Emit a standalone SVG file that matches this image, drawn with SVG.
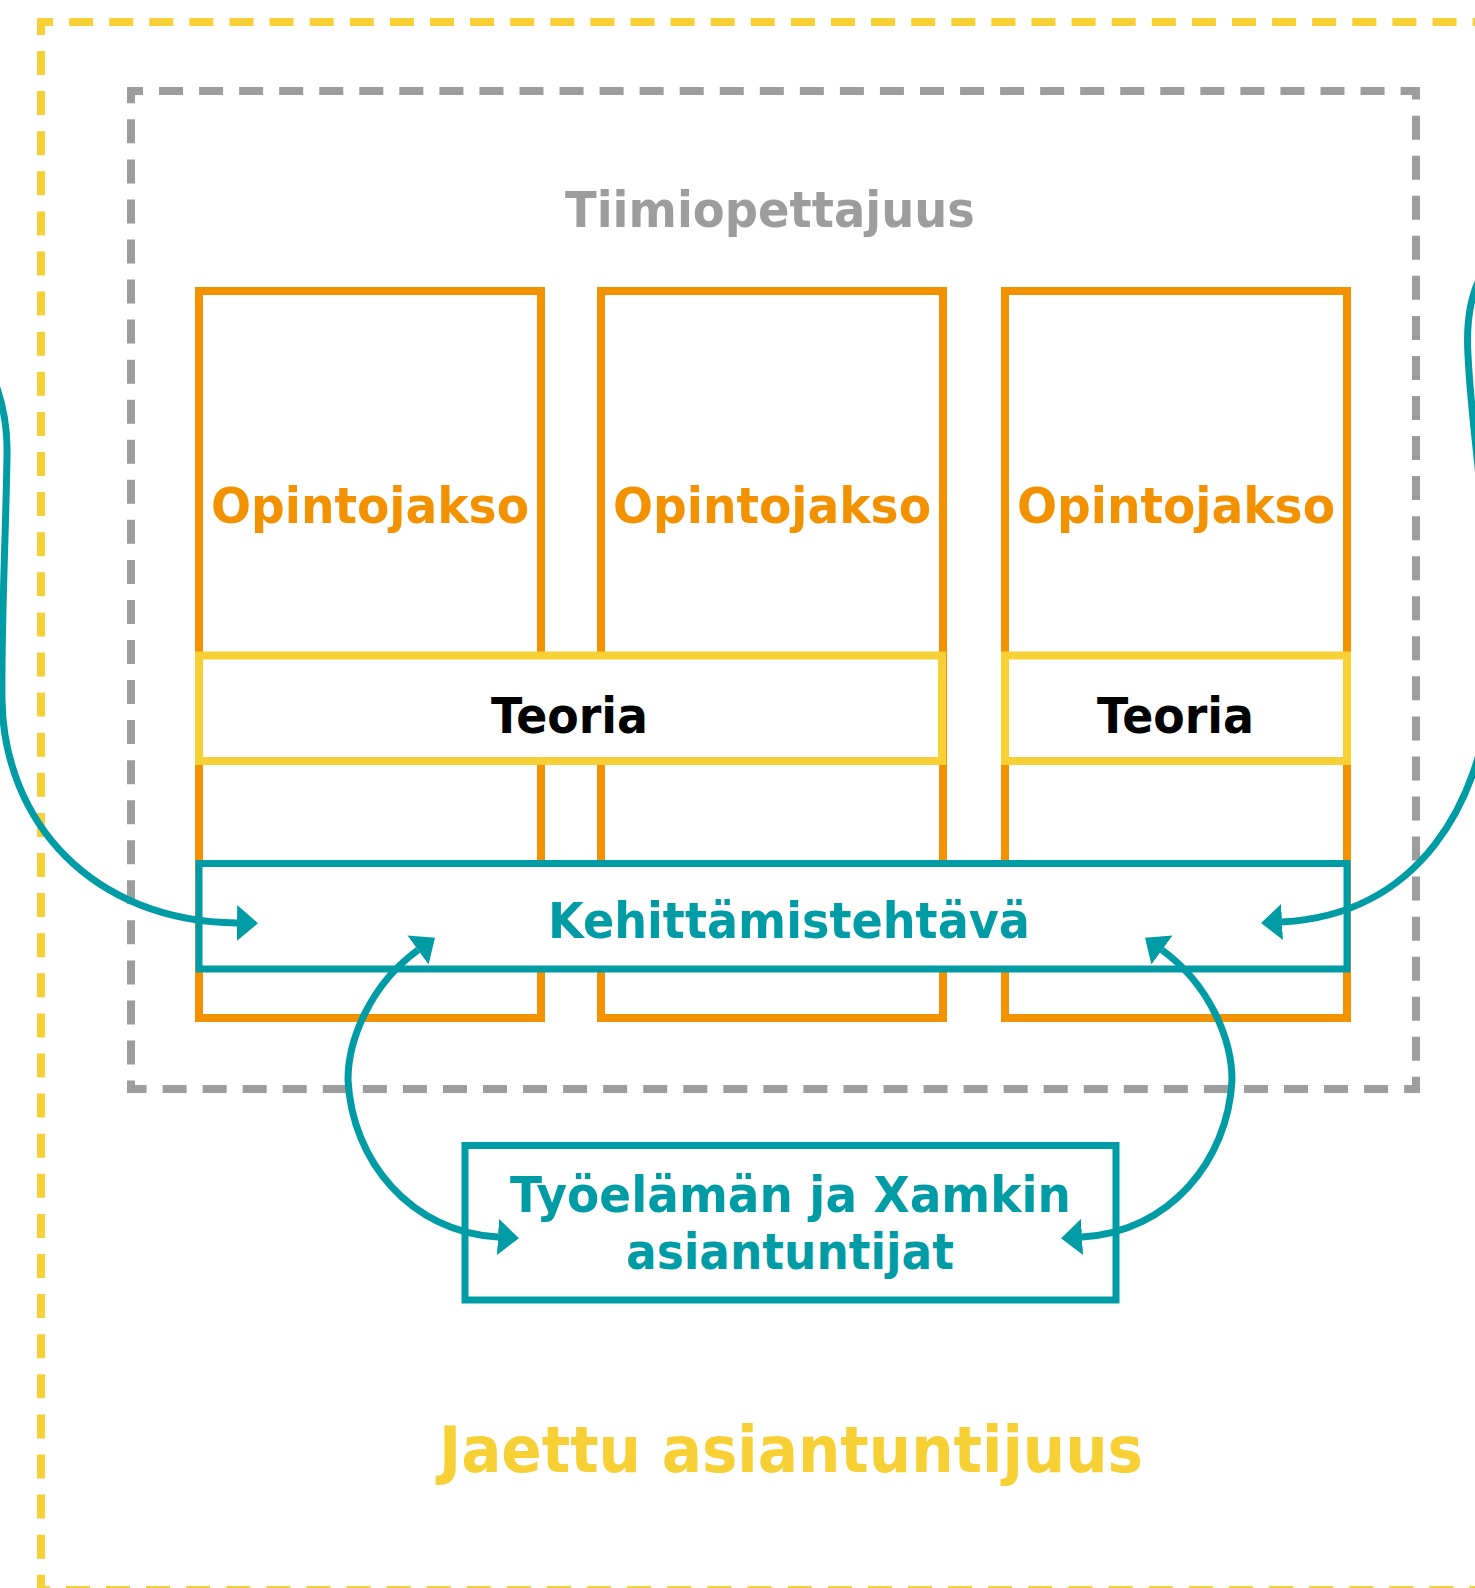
<svg xmlns="http://www.w3.org/2000/svg" width="1475" height="1588" viewBox="0 0 1475 1588">
<style>
.t{font-family:"DejaVu Sans","Liberation Sans",sans-serif;font-weight:bold;text-anchor:middle}
.orange{fill:#fff;stroke:#F39200;stroke-width:8}
.yellow{fill:#fff;stroke:#F6D035;stroke-width:8}
.teal{fill:#fff;stroke:#009CA6;stroke-width:7}
.conn{fill:none;stroke:#009CA6;stroke-width:7}
</style>
<defs>
<marker id="ah" viewBox="0 0 21 36" refX="0" refY="18" markerWidth="21" markerHeight="36" markerUnits="userSpaceOnUse" orient="auto-start-reverse">
<path d="M0,0 L21,18 L0,36 Z" fill="#009CA6"/>
</marker>
</defs>
<rect width="1475" height="1588" fill="#fff"/>
<g id="jaettu-asiantuntijuus">
<rect x="41" y="22" width="1460" height="1568" fill="none" stroke="#F6D035" stroke-width="8" stroke-dasharray="24 16.1" stroke-dashoffset="12"/>
<text class="t" x="791" y="1472" font-size="64" fill="#F6D035" textLength="704" lengthAdjust="spacingAndGlyphs">Jaettu asiantuntijuus</text>
</g>
<g id="tiimiopettajuus">
<rect x="131" y="91" width="1285" height="998" fill="none" stroke="#9D9D9D" stroke-width="8" stroke-dasharray="24 16.05" stroke-dashoffset="12"/>
<text class="t" x="770" y="227" font-size="50" fill="#9D9D9D" textLength="410" lengthAdjust="spacingAndGlyphs">Tiimiopettajuus</text>
</g>
<g id="opintojakso-1">
<rect class="orange" x="199" y="291" width="342" height="727"/>
<text class="t" x="370" y="523" font-size="50" fill="#F39200" textLength="318" lengthAdjust="spacingAndGlyphs">Opintojakso</text>
</g>
<g id="opintojakso-2">
<rect class="orange" x="601" y="291" width="342" height="727"/>
<text class="t" x="772" y="523" font-size="50" fill="#F39200" textLength="318" lengthAdjust="spacingAndGlyphs">Opintojakso</text>
</g>
<g id="opintojakso-3">
<rect class="orange" x="1005" y="291" width="342" height="727"/>
<text class="t" x="1176" y="523" font-size="50" fill="#F39200" textLength="318" lengthAdjust="spacingAndGlyphs">Opintojakso</text>
</g>
<g id="teoria-1">
<rect class="yellow" x="199" y="655.5" width="743" height="105.5"/>
<text class="t" x="569.5" y="733" font-size="50" fill="#000" textLength="157" lengthAdjust="spacingAndGlyphs">Teoria</text>
</g>
<g id="teoria-2">
<rect class="yellow" x="1005" y="655.5" width="342" height="105.5"/>
<text class="t" x="1175.5" y="733" font-size="50" fill="#000" textLength="157" lengthAdjust="spacingAndGlyphs">Teoria</text>
</g>
<g id="kehittamistehtava">
<rect class="teal" x="199" y="863.5" width="1148" height="105.5"/>
<text class="t" x="789" y="938" font-size="50" fill="#009CA6" textLength="482" lengthAdjust="spacingAndGlyphs">Kehittämistehtävä</text>
</g>
<g id="asiantuntijat">
<rect class="teal" x="465" y="1145.5" width="651" height="154.5"/>
<text class="t" x="790.5" y="1212" font-size="50" fill="#009CA6" textLength="561" lengthAdjust="spacingAndGlyphs">Työelämän ja Xamkin</text>
<text class="t" x="790" y="1269" font-size="50" fill="#009CA6" textLength="328" lengthAdjust="spacingAndGlyphs">asiantuntijat</text>
</g>
<g id="connectors">
<path class="conn" d="M-15,360 C-2,385 8,415 7,455 C6,530 1,630 2,700 C4,820 90,921 237,923" marker-end="url(#ah)"/>
<path class="conn" d="M1490,262 C1470,287 1466,322 1468,355 C1470,400 1476,445 1482,505 C1488,565 1495,620 1490,690 C1482,800 1420,915 1282,922" marker-end="url(#ah)"/>
<path class="conn" d="M418,950 C370,985 348,1040 348,1080 C352,1160 410,1232 498,1237" marker-start="url(#ah)" marker-end="url(#ah)"/>
<path class="conn" d="M1162,950 C1210,985 1232,1040 1232,1080 C1228,1160 1170,1232 1082,1237" marker-start="url(#ah)" marker-end="url(#ah)"/>
</g>
</svg>
